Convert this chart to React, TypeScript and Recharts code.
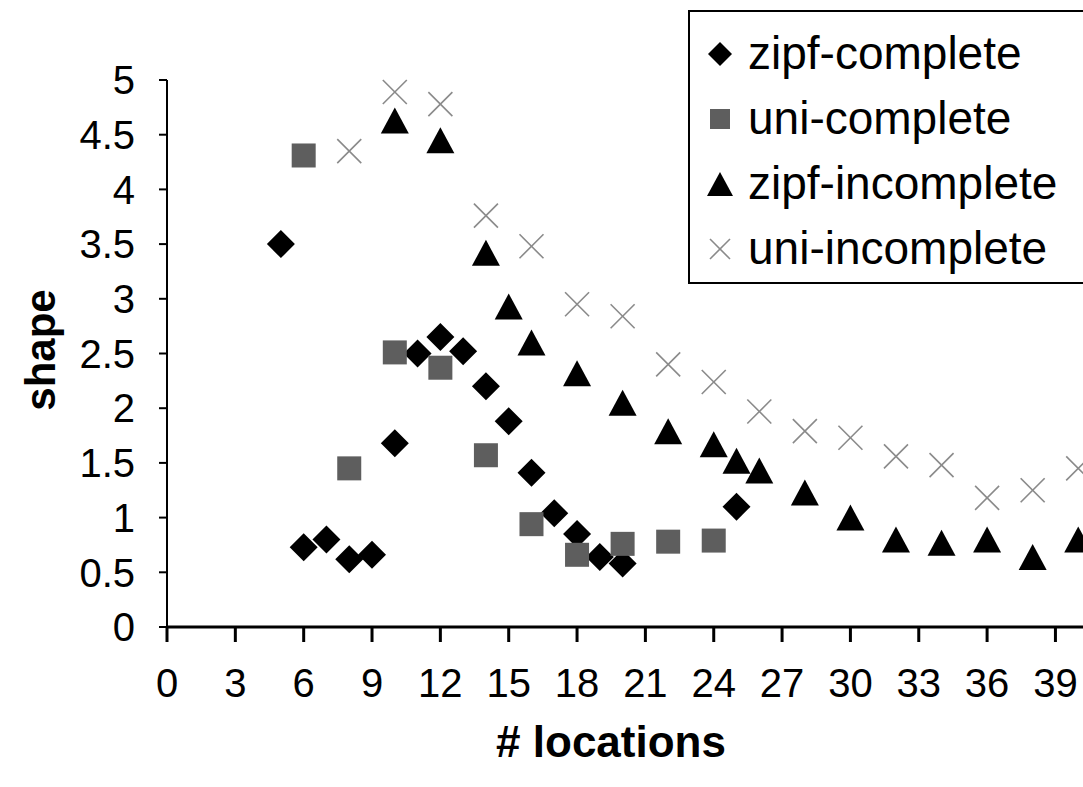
import { Scatter, ScatterChart, XAxis, YAxis } from "recharts";

// axis ticks
const xTicks = [0, 3, 6, 9, 12, 15, 18, 21, 24, 27, 30, 33, 36, 39];
const yTicks = [0, 0.5, 1, 1.5, 2, 2.5, 3, 3.5, 4, 4.5, 5];

// series values
const zipfCompleteX = [5, 6, 7, 8, 9, 10, 11, 12, 13, 14, 15, 16, 17, 18, 19, 20, 25];
const zipfCompleteY = [3.5, 0.73, 0.8, 0.62, 0.66, 1.68, 2.5, 2.65, 2.52, 2.2, 1.88, 1.41, 1.04, 0.85, 0.64, 0.58, 1.1];

const uniCompleteX = [6, 8, 10, 12, 14, 16, 18, 20, 22, 24];
const uniCompleteY = [4.31, 1.45, 2.51, 2.37, 1.57, 0.94, 0.66, 0.76, 0.78, 0.79];

const zipfIncompleteX = [10, 12, 14, 15, 16, 18, 20, 22, 24, 25, 26, 28, 30, 32, 34, 36, 38, 40];
const zipfIncompleteY = [4.63, 4.45, 3.42, 2.93, 2.6, 2.32, 2.05, 1.79, 1.67, 1.52, 1.43, 1.23, 1.0, 0.8, 0.77, 0.8, 0.64, 0.8];

const uniIncompleteX = [8, 10, 12, 14, 16, 18, 20, 22, 24, 26, 28, 30, 32, 34, 36, 38, 40];
const uniIncompleteY = [4.35, 4.89, 4.78, 3.76, 3.48, 2.95, 2.84, 2.4, 2.24, 1.97, 1.79, 1.73, 1.56, 1.48, 1.18, 1.25, 1.45];

const toPoints = (xs: number[], ys: number[]) => xs.map((x, i) => ({ x, y: ys[i] }));

const FONT = '"Liberation Sans", Arial, sans-serif';
const SQUARE_FILL = "#5e5e5e";
const CROSS_STROKE = "#8a8a8a";

// marker shapes
const Diamond = ({ cx, cy, r = 14 }: any) => (
  <polygon points={`${cx},${cy - r} ${cx + r},${cy} ${cx},${cy + r} ${cx - r},${cy}`} fill="#000" />
);

const Square = ({ cx, cy, s = 12 }: any) => (
  <rect x={cx - s} y={cy - s} width={s * 2} height={s * 2} fill={SQUARE_FILL} />
);

const Triangle = ({ cx, cy, w = 14, h = 13 }: any) => (
  <polygon points={`${cx},${cy - h} ${cx + w},${cy + h} ${cx - w},${cy + h}`} fill="#000" />
);

const Cross = ({ cx, cy, s = 12 }: any) => (
  <g stroke={CROSS_STROKE} strokeWidth={1.6}>
    <line x1={cx - s} y1={cy - s} x2={cx + s} y2={cy + s} />
    <line x1={cx - s} y1={cy + s} x2={cx + s} y2={cy - s} />
  </g>
);

const legendItems = [
  { label: "zipf-complete", marker: <Diamond cx={14} cy={14} r={12} /> },
  { label: "uni-complete", marker: <Square cx={14} cy={14} s={10} /> },
  { label: "zipf-incomplete", marker: <Triangle cx={14} cy={14} w={13} h={12} /> },
  { label: "uni-incomplete", marker: <Cross cx={14} cy={14} s={10} /> },
];

const ChartLegend = () => (
  <div
    style={{
      position: "absolute",
      left: 688,
      top: 10,
      width: 430,
      height: 274,
      border: "2px solid #000",
      background: "#fff",
      boxSizing: "border-box",
      paddingTop: 9,
    }}
  >
    {legendItems.map((item) => (
      <div key={item.label} style={{ display: "flex", alignItems: "center", height: 65 }}>
        <svg width={28} height={28} style={{ marginLeft: 16, marginRight: 14 }}>
          {item.marker}
        </svg>
        <span style={{ fontFamily: FONT, fontSize: 46, color: "#000", lineHeight: "65px" }}>
          {item.label}
        </span>
      </div>
    ))}
  </div>
);

export default function App() {
  return (
    <div
      style={{
        position: "absolute",
        left: 0,
        top: 0,
        width: 1083,
        height: 787,
        overflow: "hidden",
        background: "#fff",
      }}
    >
      <ScatterChart width={1101} height={787} margin={{ top: 80, right: 0, bottom: 0, left: 0 }}>
        <XAxis
          type="number"
          dataKey="x"
          domain={[0, 41]}
          ticks={xTicks}
          interval={0}
          height={160}
          stroke="#000"
          strokeWidth={3}
          tickSize={15}
          tickMargin={27}
          tick={{ fontSize: 40, fill: "#000", fontFamily: FONT }}
          label={{
            content: ({ viewBox }: any) => (
              <text
                x={viewBox.x + 444}
                y={viewBox.y + 130}
                textAnchor="middle"
                fontSize={44}
                fontWeight="bold"
                fontFamily={FONT}
                fill="#000"
              >
                # locations
              </text>
            ),
          }}
        />
        <YAxis
          type="number"
          dataKey="y"
          domain={[0, 5]}
          ticks={yTicks}
          interval={0}
          width={167}
          stroke="#000"
          strokeWidth={2}
          tickSize={8}
          tickMargin={24}
          tick={{ fontSize: 40, fill: "#000", fontFamily: FONT }}
          label={{
            content: ({ viewBox }: any) => {
              const cx = 40;
              const cy = viewBox.y + 270;
              return (
                <text
                  x={cx}
                  y={cy}
                  transform={`rotate(-90 ${cx} ${cy})`}
                  textAnchor="middle"
                  dominantBaseline="central"
                  fontSize={42}
                  fontWeight="bold"
                  fontFamily={FONT}
                  fill="#000"
                >
                  shape
                </text>
              );
            },
          }}
        />
        <Scatter
          name="zipf-complete"
          data={toPoints(zipfCompleteX, zipfCompleteY)}
          shape={(p: any) => <Diamond cx={p.cx} cy={p.cy} />}
          isAnimationActive={false}
        />
        <Scatter
          name="uni-complete"
          data={toPoints(uniCompleteX, uniCompleteY)}
          shape={(p: any) => <Square cx={p.cx} cy={p.cy} />}
          isAnimationActive={false}
        />
        <Scatter
          name="zipf-incomplete"
          data={toPoints(zipfIncompleteX, zipfIncompleteY)}
          shape={(p: any) => <Triangle cx={p.cx} cy={p.cy} />}
          isAnimationActive={false}
        />
        <Scatter
          name="uni-incomplete"
          data={toPoints(uniIncompleteX, uniIncompleteY)}
          shape={(p: any) => <Cross cx={p.cx} cy={p.cy} />}
          isAnimationActive={false}
        />
      </ScatterChart>
      <ChartLegend />
    </div>
  );
}
